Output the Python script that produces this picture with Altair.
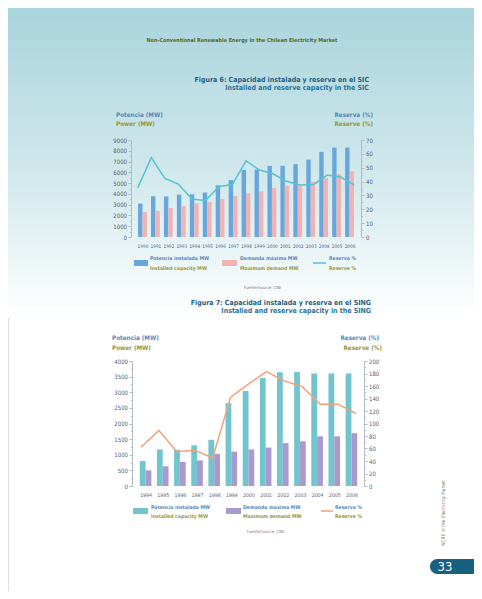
import altair as alt
import pandas as pd

# ---------------- data ----------------
sic_years = list(range(1990, 2007))
sic_capacity = [3100, 3780, 3760, 3930, 3960, 4130, 4800, 5280, 6220, 6250, 6600, 6610, 6760, 7180, 7900, 8300, 8300]
sic_demand = [2330, 2420, 2680, 2870, 3130, 3260, 3540, 3800, 4060, 4240, 4560, 4740, 4800, 5100, 5480, 5830, 6100]
sic_reserve = [35.5, 57.3, 42.3, 38.2, 27.4, 26.3, 36.3, 38.0, 54.9, 48.3, 45.6, 40.2, 37.6, 37.9, 44.7, 43.3, 37.4]

sing_years = list(range(1994, 2007))
sing_capacity = [800, 1170, 1160, 1300, 1480, 2650, 3040, 3460, 3640, 3650, 3600, 3600, 3600]
sing_demand = [500, 630, 770, 820, 1030, 1100, 1170, 1230, 1370, 1430, 1590, 1590, 1690]
sing_reserve = [62, 89, 55, 57, 45, 142, 163, 183, 168, 159, 131, 131, 116]

header_text = "Non-Conventional Renewable Energy in the Chilean Electricity Market"
fig6_title = ["Figura 6: Capacidad instalada y reserva en el SIC", "Installed and reserve capacity in the SIC"]
fig7_title = ["Figura 7: Capacidad instalada y reserva en el SING", "Installed and reserve capacity in the SING"]
left_title = ["Potencia (MW)", "Power (MW)"]
right_title = ["Reserva (%)", "Reserve (%)"]
leg_cap = ["Potencia instalada MW", "Installed capacity MW"]
leg_dem = ["Demanda máxima MW", "Maximum demand MW"]
leg_res = ["Reserva %", "Reserve %"]
source_text = "Fuente/Source: CNE"
side_text = "NCRE in the Electricity Market"
page_number = "33"

sic_df = pd.DataFrame({"year": sic_years, "capacity": sic_capacity,
                       "demand": sic_demand, "reserve": sic_reserve})
sing_df = pd.DataFrame({"year": sing_years, "capacity": sing_capacity,
                        "demand": sing_demand, "reserve": sing_reserve})
one = pd.DataFrame({"k": [0]})

# ---------------- style ----------------
W, H = 466, 583
FONT = "Liberation Sans Narrow, DejaVu Sans Condensed, Arial Narrow, sans-serif"
BLUE_T = "#5587bc"
OLIVE_T = "#96963a"
TITLE_C = "#1f5f82"
AX_LBL = "#52627b"
AX_LINE = "#b4bcc4"


def txt(s, x, y, size, color, weight="normal", align="left", angle=0):
    return alt.Chart(one).mark_text(
        text=s, fontSize=size, color=color, fontWeight=weight, align=align,
        baseline="middle", angle=angle, font=FONT
    ).encode(x=alt.value(x), y=alt.value(y))


def rect(x, x2, y, y2, color, **kw):
    return alt.Chart(one).mark_rect(color=color, **kw).encode(
        x=alt.value(x), x2=alt.value(x2), y=alt.value(y), y2=alt.value(y2))


def rule(x, x2, y, color, w=1.5):
    return alt.Chart(one).mark_rule(color=color, strokeWidth=w).encode(
        x=alt.value(x), x2=alt.value(x2), y=alt.value(y))


def yaxis(orient, offset, values, major_test):
    return alt.Axis(
        orient=orient, offset=offset, values=values, title=None, grid=False,
        labelExpr=f"({major_test}) ? format(datum.value, 'd') : ''",
        labelFont=FONT, labelFontSize=6, labelColor=AX_LBL, labelPadding=1.5,
        domainColor=AX_LINE, tickColor=AX_LINE,
        tickSize={"condition": {"test": major_test, "value": 3}, "value": 1.5},
        labelOverlap=False, labelFlush=False, zindex=1)


def xaxis(offset, values, fs):
    return alt.Axis(
        orient="bottom", offset=offset, values=values, format="d", title=None,
        grid=False, domain=False, ticks=False, labelFont=FONT, labelFontSize=fs,
        labelColor=AX_LBL, labelPadding=6, labelOverlap=False, labelFlush=False,
        zindex=1)


def combo(df, years, xr, yr, ymax_l, ymax_r, left_off, right_off, bottom_off,
          lvals, ltest, rvals, rtest, c_cap, c_dem, c_line, bw, xfs):
    xs = alt.Scale(domain=[years[0] - 0.5, years[-1] + 0.5], range=xr, nice=False, zero=False)
    yl = alt.Scale(domain=[0, ymax_l], range=yr, nice=False)
    yrr = alt.Scale(domain=[0, ymax_r], range=yr, nice=False)
    cap = alt.Chart(df).mark_bar(size=bw, xOffset=-bw / 2, color=c_cap).encode(
        x=alt.X("year:Q", scale=xs, axis=xaxis(bottom_off, years, xfs)),
        y=alt.Y("capacity:Q", scale=yl, axis=yaxis("left", left_off, lvals, ltest)))
    dem = alt.Chart(df).mark_bar(size=bw, xOffset=bw / 2, color=c_dem).encode(
        x=alt.X("year:Q", scale=xs, axis=None),
        y=alt.Y("demand:Q", scale=yl, axis=None))
    line = alt.Chart(df).mark_line(color=c_line, strokeWidth=1.5).encode(
        x=alt.X("year:Q", scale=xs, axis=None),
        y=alt.Y("reserve:Q", scale=yrr, axis=yaxis("right", right_off, rvals, rtest)))
    return [cap, dem, line]


layers = []

# background gradient
layers.append(alt.Chart(one).mark_rect(
    color=alt.LinearGradient(
        gradient="linear",
        stops=[alt.GradientStop(offset=0, color="#a9d4dc"),
               alt.GradientStop(offset=0.55, color="#d2e9ed"),
               alt.GradientStop(offset=1, color="#ffffff")],
        x1=0, x2=0, y1=0, y2=1)
).encode(x=alt.value(0), x2=alt.value(W), y=alt.value(0), y2=alt.value(310)))

# header
layers.append(txt(header_text, 234, 32, 5.4, "#56682a", "bold", "center"))

# ---------- SIC ----------
layers.append(txt(fig6_title[0], 361, 72, 7, TITLE_C, "bold", "right"))
layers.append(txt(fig6_title[1], 361, 80, 7, "#2b7394", "bold", "right"))
layers.append(txt(left_title[0], 108, 107, 6.3, BLUE_T, "bold"))
layers.append(txt(left_title[1], 108, 116, 6.3, OLIVE_T, "bold"))
layers.append(txt(right_title[0], 365, 107, 6.3, BLUE_T, "bold", "right"))
layers.append(txt(right_title[1], 365, 116, 6.3, OLIVE_T, "bold", "right"))

layers += combo(sic_df, sic_years, [123, 353], [229, 132], 9000, 70,
                -123, 353 - W, 229 - H,
                list(range(0, 9001, 500)), "datum.value % 1000 == 0",
                list(range(0, 71, 5)), "datum.value % 10 == 0",
                "#69a6dc", "#efb3b3", "#55c3d0", 4.4, 4.7)

# SIC legend
layers.append(rect(126, 140, 252, 258, "#69a6dc"))
layers.append(txt(leg_cap[0], 142, 250, 5.1, BLUE_T, "bold"))
layers.append(txt(leg_cap[1], 142, 260, 5.1, OLIVE_T, "bold"))
layers.append(rect(214, 229, 252, 258, "#efb3b3"))
layers.append(txt(leg_dem[0], 232, 250, 5.1, BLUE_T, "bold"))
layers.append(txt(leg_dem[1], 232, 260, 5.1, OLIVE_T, "bold"))
layers.append(rule(305, 318, 255, "#55c3d0"))
layers.append(txt(leg_res[0], 321, 250, 5.1, BLUE_T, "bold"))
layers.append(txt(leg_res[1], 321, 260, 5.1, OLIVE_T, "bold"))
layers.append(txt(source_text, 236, 280, 4.2, "#777777"))

# ---------- SING ----------
layers.append(txt(fig7_title[0], 363, 295, 7, TITLE_C, "bold", "right"))
layers.append(txt(fig7_title[1], 363, 303, 7, "#2b7394", "bold", "right"))
layers.append(txt(left_title[0], 104, 330, 6.3, BLUE_T, "bold"))
layers.append(txt(left_title[1], 104, 340, 6.3, OLIVE_T, "bold"))
layers.append(txt(right_title[0], 371, 330, 6.3, BLUE_T, "bold", "right"))
layers.append(txt(right_title[1], 374, 340, 6.3, OLIVE_T, "bold", "right"))

layers += combo(sing_df, sing_years, [124, 357], [478, 353], 4000, 200,
                -124, 356 - W, 478 - H,
                list(range(0, 4001, 250)), "datum.value % 500 == 0",
                list(range(0, 201, 10)), "datum.value % 20 == 0",
                "#71c5cf", "#a999cc", "#f2a27a", 5.8, 5.2)

# SING legend
layers.append(rect(125, 140, 500, 506, "#71c5cf"))
layers.append(txt(leg_cap[0], 143, 499, 5.1, BLUE_T, "bold"))
layers.append(txt(leg_cap[1], 143, 508, 5.1, OLIVE_T, "bold"))
layers.append(rect(218, 233, 500, 506, "#a999cc"))
layers.append(txt(leg_dem[0], 235, 499, 5.1, BLUE_T, "bold"))
layers.append(txt(leg_dem[1], 235, 508, 5.1, OLIVE_T, "bold"))
layers.append(rule(313, 325, 503, "#f2a27a"))
layers.append(txt(leg_res[0], 327, 499, 5.1, BLUE_T, "bold"))
layers.append(txt(leg_res[1], 327, 508, 5.1, OLIVE_T, "bold"))
layers.append(txt(source_text, 239, 524, 4.2, "#777777"))

# side text and page number
layers.append(txt(side_text, 436, 505, 4.9, "#707070", "normal", "center", 270))
layers.append(rect(422, W, 551, 566, "#17607f",
                   cornerRadiusTopLeft=7.5, cornerRadiusBottomLeft=7.5))
layers.append(txt(page_number, 437, 559, 13, "#ffffff", "normal", "center"))

chart = alt.layer(*layers).resolve_scale(x="independent", y="independent").properties(
    width=W, height=H, autosize=alt.AutoSizeParams(type="none"), padding=0
).configure_view(strokeWidth=0).configure(background="#ffffff")

chart.save("out.html", embed_options={"renderer": "svg", "actions": False})
